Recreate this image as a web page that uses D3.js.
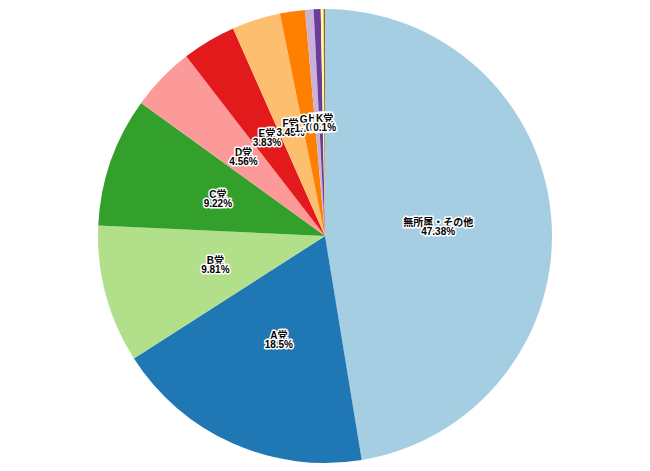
<!DOCTYPE html>
<html><head><meta charset="utf-8">
<script src="https://cdn.jsdelivr.net/npm/d3@7"></script>
<style>body{margin:0;background:#fff;} svg{display:block;}</style>
</head><body>
<svg id="chart" width="650" height="471"></svg>
<script>
const categories = ["無所属・その他","A党","B党","C党","D党","E党","F党","G党","H党","I党","J党","K党"];
const values = [47.38, 18.5, 9.81, 9.22, 4.56, 3.83, 3.45, 1.78, 0.6, 0.5, 0.2, 0.1];
const colors = ["#a6cee3","#1f78b4","#b2df8a","#33a02c","#fb9a99","#e31a1c","#fdbf6f","#ff7f00","#cab2d6","#6a3d9a","#ffff99","#b15928"];

const data = categories.map((c,i)=>({name:c, value:values[i]}));
const svg = d3.select("#chart");
const cx = 325, cy = 236, r = 227;
const g = svg.append("g").attr("transform",`translate(${cx},${cy})`);
const pie = d3.pie().value(d=>d.value).sort(null);
const arc = d3.arc().innerRadius(0).outerRadius(r);
const color = d3.scaleOrdinal().domain(categories).range(colors);
const arcs = pie(data);
g.selectAll("path").data(arcs).join("path")
  .attr("d", arc).attr("fill", d=>color(d.data.name));
const lbl = g.selectAll("text").data(arcs).join("text")
  .attr("transform", d=>`translate(${arc.centroid(d)})`)
  .attr("text-anchor","middle")
  .attr("font-family","'Liberation Sans', Arial, 'Noto Sans CJK JP', sans-serif")
  .attr("font-size","10px").attr("font-weight","bold")
  .attr("fill","#000")
  .attr("stroke","#fff").attr("stroke-width",3).attr("stroke-linejoin","round")
  .attr("paint-order","stroke");
lbl.append("tspan").attr("x",0).attr("dy","-0.1em").text(d=>d.data.name);
lbl.append("tspan").attr("x",0).attr("dy","0.9em").text(d=>d.data.value+"%");
</script>
</body></html>
